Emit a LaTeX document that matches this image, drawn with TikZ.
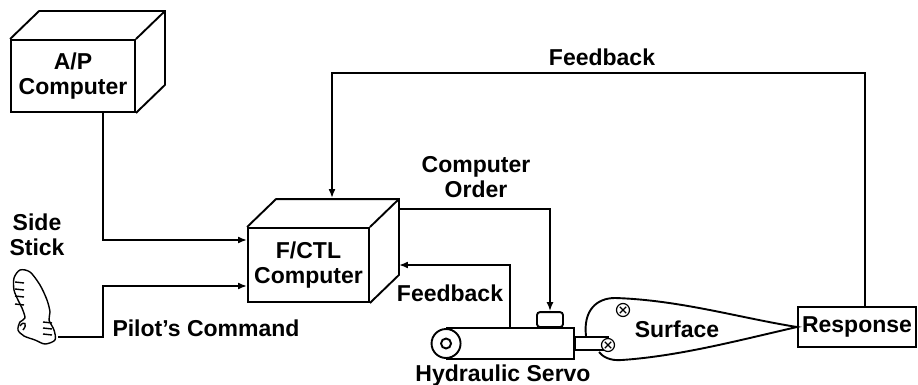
\documentclass[tikz,border=0pt]{standalone}
\usepackage{fontspec}
\setmainfont{Liberation Sans}
\usetikzlibrary{arrows.meta}
\usetikzlibrary{calc}
\usetikzlibrary{positioning}

\begin{document}
\begin{tikzpicture}[
		x=1pt, y=-1pt, line width=1.9pt,
		every node/.style={font=\fontsize{23}{25}\selectfont\bfseries, align=center, inner sep=0pt},
		box/.style={draw, minimum width=#1},
		arr/.style={-{Latex[length=9pt,width=7pt]}},
		hinge/.style={circle, draw, line width=1.2pt, minimum size=13pt,
			path picture={\draw[line width=1.2pt] (path picture bounding box.center) +(-3.2pt,-3.2pt) -- +(3.2pt,3.2pt) +(-3.2pt,3.2pt) -- +(3.2pt,-3.2pt);}}
	]
	\useasboundingbox (0,0) rectangle (918,385);

	% the two computers, front faces first
	\node[box=124pt, minimum height=72pt] (ap) at (73,76) {A/P\\Computer};
	\node[box=121pt, minimum height=74pt] (fctl) at (308.5,265) {F/CTL\\Computer};
	\foreach \b in {ap,fctl} {
			\draw (\b.north west) -- ++(29,-28) -| ([xshift=29pt,yshift=28pt]\b.south east) -- (\b.south east);
			\draw (\b.north east) -- ++(29,-28);
		}

	\node[box=118pt, minimum height=40pt] (resp) at (857,327) {Response};

	% side stick
	\draw[line width=1.4pt] plot[smooth cycle] coordinates {(14,278) (20,270) (30,272) (40,285) (47,300) (50,312) (49,320) (54,330) (55,340) (45,344) (35,340) (24,336) (18,330) (20,322) (25,318) (22,308) (18,300) (14,290)};
	\foreach \y in {282,289,296,304} {
			\draw[line width=1.4pt] (15,\y) -- ++(9,1);
		}
	\foreach \y in {322,328,334} {
			\draw[line width=1.4pt] (43,\y) -- ++(9,1);
		}
	\draw[line width=1.4pt] (20,326) .. controls (24,320) and (28,324) .. (23,330);
	\coordinate (stick) at (58,337);
	\node (side) at (37,235) {Side\\Stick};
	\node (pilot) at (206,328) {Pilot's Command};

	% hydraulic servo
	\node[minimum width=126pt, minimum height=29pt] (servo) at (510,343.5) {};
	\draw (servo.north west) -- (servo.north east) -- (servo.south east) -- (servo.south west);
	\draw[fill=white] (servo.west) circle (14.5);
	\draw (servo.west) circle (5);
	\node[draw, rounded corners=3pt, minimum width=26pt, minimum height=15pt, anchor=south] (valve) at ([xshift=40pt]servo.north) {};
	\node[draw, minimum width=33pt, minimum height=13pt, anchor=west] (rod) at (servo.east) {};
	\node (servolbl) at (503,376) {Hydraulic Servo};

	% control surface
	\draw (586,336) .. controls (583,310) and (597,298) .. (615,298)
		.. controls (680,300) and (740,318) .. (resp.west)
		.. controls (740,340) and (680,356) .. (622,360)
		.. controls (610,361) and (603,357) .. (599,352);
	\node[hinge, fill=white] (piv) at (608,345) {};
	\node[hinge] (hng) at (623,310) {};
	\node (surf) at (677,329) {Surface};

	% signal paths
	\draw[arr] ([xshift=30pt]ap.south) |- ([yshift=25pt]fctl.west);
	\draw[arr] (stick) -- ++(45,0) |- ([yshift=-21pt]fctl.west);
	\draw[arr] ([xshift=29pt,yshift=56pt]fctl.east) -| (valve.north);
	\node (order) at (476,177.5) {Computer\\Order};
	\draw[arr] (servo.north) |- ([xshift=29pt]fctl.east);
	\node (fbservo) at (450,293) {Feedback};
	\coordinate (fbtop) at (332,73);
	\draw[arr] ([xshift=8pt]resp.north) |- (fbtop) -- ([xshift=23.5pt,yshift=29pt]fctl.north);
	\node (fblbl) at (602,57) {Feedback};
\end{tikzpicture}
\end{document}
